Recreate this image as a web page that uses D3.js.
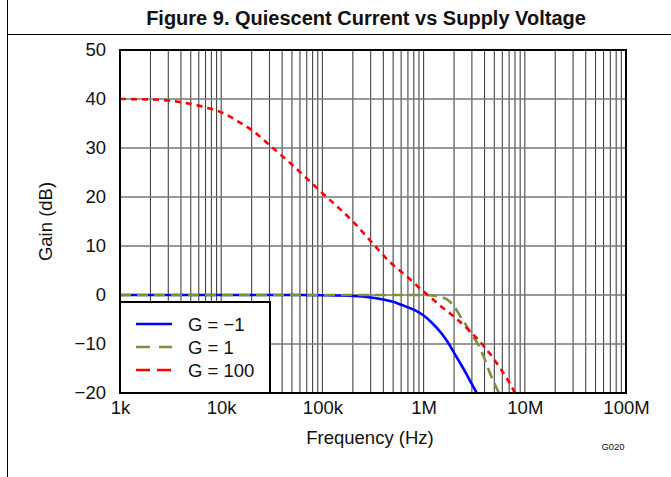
<!DOCTYPE html>
<html><head><meta charset="utf-8">
<script src="https://cdn.jsdelivr.net/npm/d3@7"></script>
<style>body{margin:0;background:#fff}svg{display:block}text{font-family:Arial,"Liberation Sans",sans-serif}</style>
</head><body><svg id="c" width="671" height="477"></svg>
<script>
const title = "Figure 9. Quiescent Current vs Supply Voltage";
const xTickValues = [1e3, 1e4, 1e5, 1e6, 1e7, 1e8];
const xTickLabels = ["1k", "10k", "100k", "1M", "10M", "100M"];
const yTickValues = [-20, -10, 0, 10, 20, 30, 40, 50];
const yTickLabels = ["\u221220", "\u221210", "0", "10", "20", "30", "40", "50"];
const seriesNames = ["G = \u22121", "G = 1", "G = 100"];
const freqNeg1 = [1e3, 1e4, 5e4, 1e5, 2e5, 3e5, 4e5, 5e5, 6e5, 8e5, 1e6, 1.2e6, 1.5e6, 1.78e6, 2e6, 2.5e6, 3e6, 3.35e6];
const gainNeg1 = [0, 0, 0, -0.05, -0.2, -0.5, -0.9, -1.4, -2.0, -3.0, -4.2, -5.6, -7.8, -10, -11.8, -15.2, -18.2, -20];
const freqG1 = [1e3, 1e4, 1e5, 1e6, 1.2e6, 1.4e6, 1.7e6, 2e6, 2.3e6, 2.6e6, 3e6, 3.44e6, 4e6, 4.5e6, 5e6, 5.56e6];
const gainG1 = [0, 0, 0, 0, -0.1, -0.3, -0.9, -2.3, -4.3, -6.0, -8.2, -10, -13, -15.8, -18, -20];
const freqG100 = [1e3, 2e3, 3e3, 5e3, 7e3, 1e4, 1.5e4, 2e4, 3e4, 5e4, 7e4, 1e5, 2e5, 3e5, 4.5e5, 7e5, 1e6, 1.1e6, 1.5e6, 2e6, 3e6, 4e6, 5e6, 6e6, 7e6, 8e6];
const gainG100 = [40, 39.9, 39.7, 39.0, 38.3, 37.3, 35.3, 33.7, 30.6, 26.6, 23.8, 20.8, 15.0, 11.0, 7.0, 3.6, 0.7, 0.0, -2.4, -4.4, -7.8, -10.6, -13.2, -15.6, -17.8, -20];

const FS = 18.5;
const svg = d3.select("#c");
const L = 120, R = 626, T = 50, B = 393;
const x = d3.scaleLog().domain([1e3, 1e8]).range([L, R]);
const y = d3.scaleLinear().domain([-20, 50]).range([B, T]);

// frame
svg.append("line").attr("x1", 7.5).attr("x2", 7.5).attr("y1", 0).attr("y2", 477).attr("stroke", "#000").attr("stroke-width", 1);
svg.append("line").attr("x1", 7).attr("x2", 671).attr("y1", 34.5).attr("y2", 34.5).attr("stroke", "#000").attr("stroke-width", 1);
svg.append("text").attr("x", 366).attr("y", 25).attr("text-anchor", "middle").attr("font-weight", "bold").attr("font-size", 20).attr("fill", "#111").text(title);

// grid
const minor = [];
for (let d = 3; d < 8; d++) for (let m = 2; m <= 9; m++) minor.push(m * Math.pow(10, d));
const g = svg.append("g");
g.selectAll("line.v").data(minor.concat(xTickValues.slice(1, -1))).join("line")
  .attr("x1", d => x(d)).attr("x2", d => x(d)).attr("y1", T).attr("y2", B)
  .attr("stroke", "#444").attr("stroke-width", 1.1);
g.selectAll("line.h").data(yTickValues.slice(1, -1)).join("line")
  .attr("x1", L).attr("x2", R).attr("y1", d => y(d)).attr("y2", d => y(d))
  .attr("stroke", "#777").attr("stroke-width", 1.6);

// axes labels
const xAxis = d3.axisBottom(x).tickValues(xTickValues).tickFormat((d, i) => xTickLabels[i]).tickSize(0).tickPadding(8);
const ax = svg.append("g").attr("transform", `translate(0,${B})`).call(xAxis);
ax.select(".domain").remove();
ax.selectAll("text").attr("font-size", FS).attr("font-family", "Arial, 'Liberation Sans', sans-serif").attr("fill", "#111");
const yAxis = d3.axisLeft(y).tickValues(yTickValues).tickFormat((d, i) => yTickLabels[i]).tickSize(0).tickPadding(14);
const ay = svg.append("g").attr("transform", `translate(${L},0)`).call(yAxis);
ay.select(".domain").remove();
ay.selectAll("text").attr("font-size", FS).attr("font-family", "Arial, 'Liberation Sans', sans-serif").attr("fill", "#111");

svg.append("text").attr("x", 370).attr("y", 444).attr("text-anchor", "middle").attr("font-size", FS).attr("fill", "#111").text("Frequency (Hz)");
svg.append("text").attr("transform", `translate(52,${(T + B) / 2}) rotate(-90)`).attr("text-anchor", "middle").attr("font-size", FS).attr("fill", "#111").text("Gain (dB)");
svg.append("text").attr("x", 613).attr("y", 450).attr("text-anchor", "middle").attr("font-size", 9.5).attr("fill", "#111").text("G020");

// curves
svg.append("clipPath").attr("id", "pc").append("rect").attr("x", L).attr("y", T).attr("width", R - L).attr("height", B - T);
const line = d3.line().x(d => x(d[0])).y(d => y(d[1])).curve(d3.curveMonotoneX);
const series = [
  {f: freqNeg1, v: gainNeg1, color: "#0000FF", dash: null, lgDash: null},
  {f: freqG1, v: gainG1, color: "#77933C", dash: "11,6", lgDash: "14,9"},
  {f: freqG100, v: gainG100, color: "#FF0000", dash: "6,5", lgDash: "14,7"}
];
const cg = svg.append("g").attr("clip-path", "url(#pc)");
series.forEach(s => {
  cg.append("path").datum(s.f.map((f, i) => [f, s.v[i]])).attr("d", line)
    .attr("fill", "none").attr("stroke", s.color).attr("stroke-width", 2.6)
    .attr("stroke-dasharray", s.dash);
});

// legend
svg.append("rect").attr("x", L).attr("y", 302).attr("width", 150).attr("height", B - 302).attr("fill", "#fff").attr("stroke", "#000").attr("stroke-width", 2);
const ly = [324, 347, 370];
series.forEach((s, i) => {
  svg.append("line").attr("x1", 136).attr("x2", 172).attr("y1", ly[i]).attr("y2", ly[i])
    .attr("stroke", s.color).attr("stroke-width", 2.6).attr("stroke-dasharray", s.lgDash);
  svg.append("text").attr("x", 188).attr("y", ly[i] + 6.5).attr("font-size", FS).attr("fill", "#111").text(seriesNames[i]);
});

// plot border
svg.append("rect").attr("x", L).attr("y", T).attr("width", R - L).attr("height", B - T).attr("fill", "none").attr("stroke", "#000").attr("stroke-width", 2);
</script></body></html>
